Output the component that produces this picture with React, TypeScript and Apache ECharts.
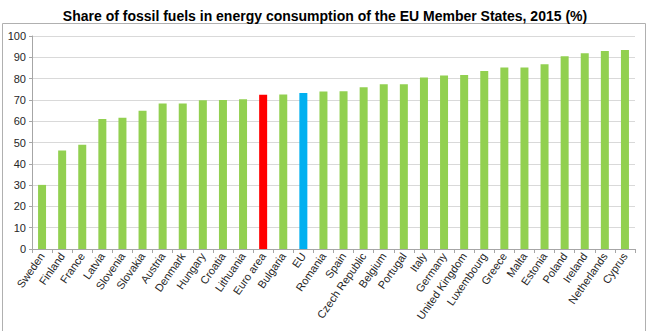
import React, { useEffect, useRef } from "react";
import * as echarts from "echarts";

const categories = [
  "Sweden", "Finland", "France", "Latvia", "Slovenia", "Slovakia", "Austria", "Denmark",
  "Hungary", "Croatia", "Lithuania", "Euro area", "Bulgaria", "EU", "Romania", "Spain",
  "Czech Republic", "Belgium", "Portugal", "Italy", "Germany", "United Kingdom", "Luxembourg",
  "Greece", "Malta", "Estonia", "Poland", "Ireland", "Netherlands", "Cyprus",
];
const values = [
  30.1, 46.2, 49.0, 61.0, 61.6, 64.9, 68.3, 68.3,
  69.8, 69.9, 70.3, 72.4, 72.5, 73.2, 74.0, 74.1,
  75.9, 77.3, 77.3, 80.5, 81.4, 81.7, 83.6,
  85.2, 85.2, 86.7, 90.5, 91.9, 93.0, 93.4,
];
const highlightRed = ["Euro area"];
const highlightBlue = ["EU"];
const yTicks = { min: 0, max: 100, interval: 10 };
const titleText = "Share of fossil fuels in energy consumption of the EU Member States, 2015 (%)";

export default function App() {
  const ref = useRef<HTMLDivElement>(null);
  useEffect(() => {
    if (!ref.current) return;
    const chart = echarts.init(ref.current, undefined, { renderer: "svg" });
    const data = categories.map((c, i) => ({
      value: values[i],
      itemStyle: {
        color: highlightRed.includes(c) ? "#ff0000" : highlightBlue.includes(c) ? "#00b0f0" : "#92d050",
      },
    }));
    chart.setOption({
      animation: false,
      backgroundColor: "#ffffff",
      title: {
        text: titleText,
        left: "center",
        top: 4,
        textStyle: {
          fontFamily: "'Liberation Sans', Arial, sans-serif",
          fontWeight: "bold",
          fontSize: 14,
          color: "#000000",
        },
      },
      graphic: [
        {
          type: "rect",
          shape: { x: 2.5, y: 23.5, width: 643, height: 330 },
          style: { fill: "none", stroke: "#b0b0b0", lineWidth: 1 },
          silent: true,
        },
      ],
      grid: { left: 32, right: 15, top: 36, bottom: 82 },
      xAxis: {
        type: "category",
        data: categories,
        axisLine: { show: true, lineStyle: { color: "#a6a6a6", width: 1 } },
        axisTick: { show: true, alignWithLabel: false, length: 4, lineStyle: { color: "#a6a6a6" } },
        axisLabel: {
          rotate: 55,
          interval: 0,
          margin: 5,
          fontSize: 11,
          color: "#262626",
          fontFamily: "'Liberation Sans', Arial, sans-serif",
        },
      },
      yAxis: {
        type: "value",
        min: yTicks.min,
        max: yTicks.max,
        interval: yTicks.interval,
        axisLine: { show: true, lineStyle: { color: "#a6a6a6", width: 1 } },
        axisTick: { show: true, inside: false, length: 3, lineStyle: { color: "#a6a6a6" } },
        axisLabel: {
          fontSize: 11,
          margin: 6,
          color: "#262626",
          fontFamily: "'Liberation Sans', Arial, sans-serif",
        },
        splitLine: { show: true, lineStyle: { color: "#d9d9d9", width: 1 } },
      },
      series: [
        {
          type: "bar",
          data,
          barWidth: 8,
        },
      ],
    });
    return () => chart.dispose();
  }, []);
  return (
    <div
      ref={ref}
      style={{ position: "absolute", left: 0, top: 0, width: 650, height: 331 }}
    />
  );
}
